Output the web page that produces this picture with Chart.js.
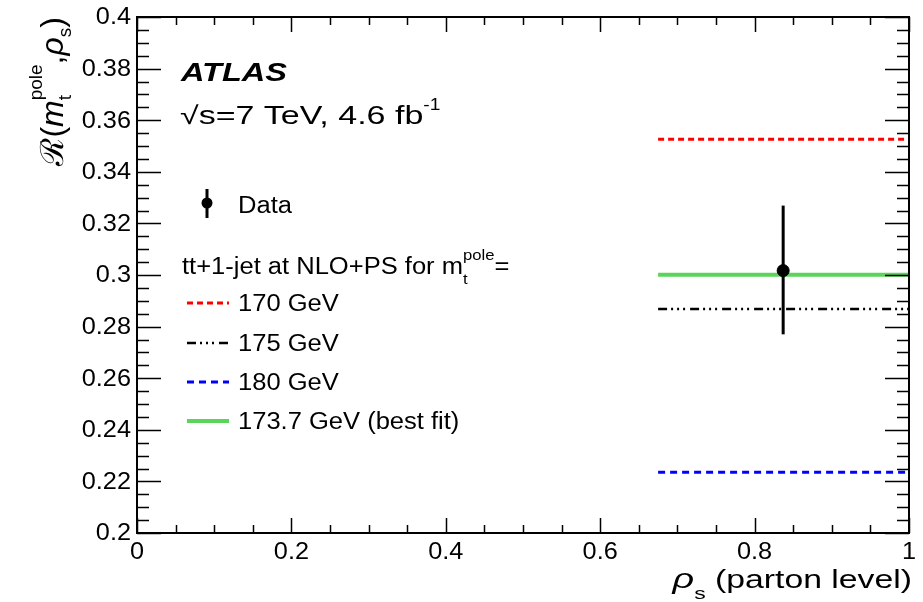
<!DOCTYPE html>
<html>
<head>
<meta charset="utf-8">
<script src="https://cdn.jsdelivr.net/npm/chart.js@4.4.0/dist/chart.umd.min.js"></script>
<style>
  html, body { margin: 0; padding: 0; background: #fff; }
  #wrap { width: 923px; height: 602px; }
</style>
</head>
<body>
<div id="wrap"><canvas id="grafico" width="923" height="602"></canvas></div>
<script>
// valores
const xTicks = [0, 0.2, 0.4, 0.6, 0.8, 1];
const xTickLabels = ["0", "0.2", "0.4", "0.6", "0.8", "1"];
const yTicks = [0.2, 0.22, 0.24, 0.26, 0.28, 0.3, 0.32, 0.34, 0.36, 0.38, 0.4];
const yTickLabels = ["0.2", "0.22", "0.24", "0.26", "0.28", "0.3", "0.32", "0.34", "0.36", "0.38", "0.4"];

const massLabels = ["170 GeV", "175 GeV", "180 GeV", "173.7 GeV (best fit)"];
const massValues = [0.3526, 0.2868, 0.2235, 0.3001];
const predRange = [0.675, 1];

const dataX = [0.837];
const dataY = [0.3017];
const dataErrDown = [0.0247];
const dataErrUp = [0.0252];

const colores = ["#ff0000", "#000000", "#0000ff", "#5ad55a"];
const dashes = [[6, 4], [9, 4, 2, 4, 2, 4, 2, 5], [7, 5], []];
const anchos = [3, 2.5, 3, 4];

const FAM = '"Liberation Sans", Arial, sans-serif';

// texto con estiramiento horizontal
function txt(ctx, s, x, y, font, sx, align) {
  ctx.save();
  ctx.font = font;
  const w = ctx.measureText(s).width * sx;
  let x0 = x;
  if (align === "right") x0 = x - w;
  else if (align === "center") x0 = x - w / 2;
  ctx.translate(x0, y);
  ctx.scale(sx, 1);
  ctx.textAlign = "left";
  ctx.fillStyle = "#000";
  ctx.fillText(s, 0, 0);
  ctx.restore();
  return w;
}

function anchoTxt(ctx, s, font, sx) {
  ctx.save();
  ctx.font = font;
  const w = ctx.measureText(s).width * sx;
  ctx.restore();
  return w;
}

const datasets = [{
  label: "Data",
  data: dataX.map((x, i) => ({ x: x, y: dataY[i] })),
  showLine: false,
  pointRadius: 6,
  pointBackgroundColor: "#000",
  pointBorderColor: "#000",
  borderColor: "#000"
}];

massValues.forEach((v, i) => {
  datasets.push({
    label: massLabels[i],
    data: [{ x: predRange[0], y: v }, { x: predRange[1], y: v }],
    borderColor: colores[i],
    borderWidth: anchos[i],
    borderDash: dashes[i],
    pointRadius: 0,
    fill: false,
    tension: 0
  });
});

const decoracion = {
  id: "decoracion",
  afterDatasetsDraw(chart) {
    const ctx = chart.ctx;
    const xs = chart.scales.x, ys = chart.scales.y;
    // barras de error
    ctx.save();
    ctx.strokeStyle = "#000";
    ctx.lineWidth = 3;
    dataX.forEach((x, i) => {
      const px = xs.getPixelForValue(x);
      ctx.beginPath();
      ctx.moveTo(px, ys.getPixelForValue(dataY[i] + dataErrUp[i]));
      ctx.lineTo(px, ys.getPixelForValue(dataY[i] - dataErrDown[i]));
      ctx.stroke();
    });
    ctx.restore();
  },
  afterDraw(chart) {
    const ctx = chart.ctx;
    const a = chart.chartArea;
    const xs = chart.scales.x, ys = chart.scales.y;
    ctx.save();
    ctx.strokeStyle = "#000";

    // marco
    ctx.lineWidth = 2;
    ctx.strokeRect(a.left, a.top, a.right - a.left, a.bottom - a.top);

    // marcas eje y (izq y der)
    ctx.lineWidth = 1.5;
    for (let k = 0; k <= 40; k++) {
      const v = 0.2 + k * 0.005;
      const py = Math.round(ys.getPixelForValue(v)) + 0.5;
      const len = (k % 4 === 0) ? 24 : 12;
      ctx.beginPath();
      ctx.moveTo(a.left, py); ctx.lineTo(a.left + len, py);
      ctx.moveTo(a.right, py); ctx.lineTo(a.right - len, py);
      ctx.stroke();
    }
    // marcas eje x (abajo y arriba)
    for (let k = 0; k <= 20; k++) {
      const v = k * 0.05;
      const px = Math.round(xs.getPixelForValue(v)) + 0.5;
      const len = (k % 4 === 0) ? 15 : 8;
      ctx.beginPath();
      ctx.moveTo(px, a.bottom); ctx.lineTo(px, a.bottom - len);
      ctx.moveTo(px, a.top); ctx.lineTo(px, a.top + len);
      ctx.stroke();
    }

    // etiquetas
    ctx.textBaseline = "middle";
    yTicks.forEach((v, i) => {
      txt(ctx, yTickLabels[i], a.left - 6, ys.getPixelForValue(v) + 1, "23px " + FAM, 1.1, "right");
    });
    ctx.textBaseline = "alphabetic";
    xTicks.forEach((v, i) => {
      txt(ctx, xTickLabels[i], xs.getPixelForValue(v), 559, "23px " + FAM, 1.1, "center");
    });

    // titulo eje x
    const fMain = "25px " + FAM, fIt = "italic 28px " + FAM, fSub = "17px " + FAM;
    const sxT = 1.35;
    const wRest = anchoTxt(ctx, " (parton level)", fMain, sxT);
    const wSub = anchoTxt(ctx, "s", fSub, sxT);
    const wRho = anchoTxt(ctx, "ρ", fIt, sxT);
    let xx = 912 - wRest - wSub - wRho;
    txt(ctx, "ρ", xx, 588, fIt, sxT, "left");
    txt(ctx, "s", xx + wRho, 599, fSub, sxT, "left");
    txt(ctx, " (parton level)", xx + wRho + wSub, 588, fMain, sxT, "left");

    // titulo eje y (rotado)
    ctx.save();
    ctx.translate(63, 17);
    ctx.rotate(-Math.PI / 2);
    const big = "32px " + FAM, bigIt = "italic 32px " + FAM, small = "19px " + FAM;
    const piezas = [
      { s: "ℛ", f: big, dy: 0 },
      { s: "(", f: big, dy: 0 },
      { s: "m", f: bigIt, dy: 0 },
      { s: "pole", f: small, dy: -21, sub: "t", subDy: 8 },
      { s: ",", f: big, dy: 0 },
      { s: "ρ", f: bigIt, dy: 0 },
      { s: "s", f: small, dy: 8 },
      { s: ")", f: big, dy: 0 }
    ];
    let total = 0;
    piezas.forEach(p => { p.w = anchoTxt(ctx, p.s, p.f, 1); total += p.w; });
    let cx = -total;
    piezas.forEach(p => {
      txt(ctx, p.s, cx, p.dy, p.f, 1, "left");
      if (p.sub) txt(ctx, p.sub, cx, p.subDy, p.f, 1, "left");
      cx += p.w;
    });
    ctx.restore();

    // ATLAS
    txt(ctx, "ATLAS", 181, 81, "bold italic 25px " + FAM, 1.3, "left");
    // energia y luminosidad
    const fE = "25px " + FAM;
    let wq = txt(ctx, "√s=7 TeV, 4.6 fb", 180, 124, fE, 1.36, "left");
    txt(ctx, "-1", 180 + wq, 110, "16px " + FAM, 1.2, "left");

    // leyenda
    const fL = "23px " + FAM, sxL = 1.11;
    // Data
    ctx.lineWidth = 3;
    ctx.setLineDash([]);
    ctx.beginPath();
    ctx.moveTo(207, 189); ctx.lineTo(207, 218);
    ctx.stroke();
    ctx.beginPath();
    ctx.arc(207, 203, 5.5, 0, Math.PI * 2);
    ctx.fillStyle = "#000";
    ctx.fill();
    txt(ctx, "Data", 238, 213, fL, sxL, "left");

    // cabecera de modelos
    let wh = txt(ctx, "tt+1-jet at NLO+PS for m", 182, 274, fL, sxL, "left");
    txt(ctx, "pole", 182 + wh, 260, "15px " + FAM, sxL, "left");
    txt(ctx, "t", 182 + wh, 284, "15px " + FAM, sxL, "left");
    const wp = anchoTxt(ctx, "pole", "15px " + FAM, sxL);
    txt(ctx, "=", 182 + wh + wp, 274, fL, sxL, "left");

    const filas = [303, 343, 382, 421];
    massLabels.forEach((lab, i) => {
      ctx.save();
      ctx.strokeStyle = colores[i];
      ctx.lineWidth = anchos[i];
      ctx.setLineDash(dashes[i]);
      ctx.beginPath();
      ctx.moveTo(187, filas[i]); ctx.lineTo(229, filas[i]);
      ctx.stroke();
      ctx.restore();
      txt(ctx, lab, 238, filas[i] + 8, fL, sxL, "left");
    });

    ctx.restore();
  }
};

new Chart(document.getElementById("grafico"), {
  type: "line",
  data: { datasets: datasets },
  options: {
    responsive: false,
    animation: false,
    devicePixelRatio: 1,
    layout: { padding: { left: 137, right: 14, top: 17, bottom: 69 } },
    plugins: { legend: { display: false }, tooltip: { enabled: false } },
    scales: {
      x: { type: "linear", min: 0, max: 1, display: false },
      y: { type: "linear", min: 0.2, max: 0.4, display: false }
    }
  },
  plugins: [decoracion]
});
</script>
</body>
</html>
